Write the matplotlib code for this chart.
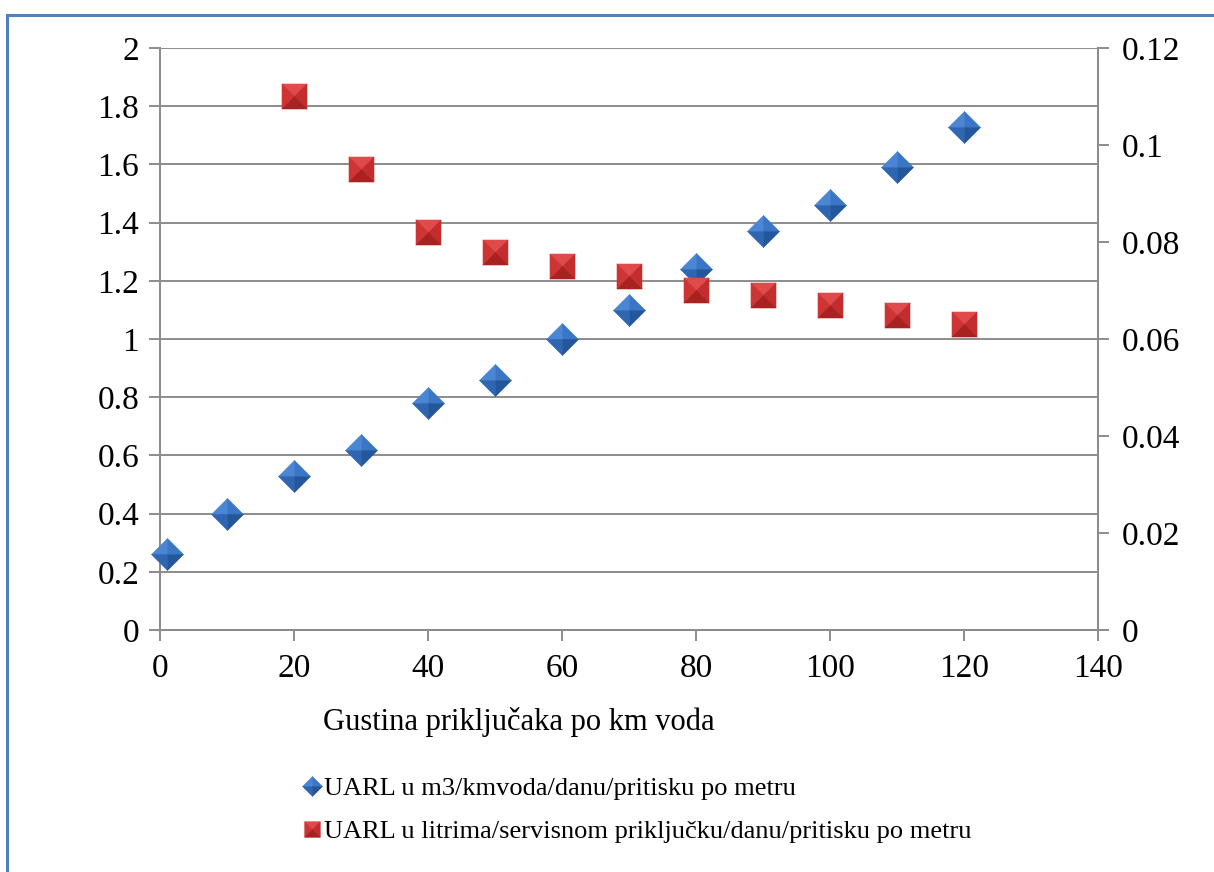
import matplotlib
matplotlib.use("Agg")
import matplotlib.pyplot as plt
from matplotlib.patches import Rectangle
from matplotlib.legend_handler import HandlerTuple

plt.rcParams['font.family'] = ['Liberation Serif', 'DejaVu Serif']

# Connection density (connections per km of main)
density_m3 = [1, 10, 20, 30, 40, 50, 60, 70, 80, 90, 100, 110, 120]
uarl_m3 = [0.26, 0.40, 0.53, 0.62, 0.78, 0.86, 1.00, 1.10, 1.24, 1.37, 1.46, 1.59, 1.73]

density_l = [20, 30, 40, 50, 60, 70, 80, 90, 100, 110, 120]
uarl_l = [0.110, 0.095, 0.082, 0.078, 0.075, 0.073, 0.070, 0.069, 0.067, 0.065, 0.063]

label_m3 = "UARL u m3/kmvoda/danu/pritisku po metru"
label_l = "UARL u litrima/servisnom priključku/danu/pritisku po metru"
xlabel = "Gustina priključaka po km voda"

left_ticks = [0, 0.2, 0.4, 0.6, 0.8, 1, 1.2, 1.4, 1.6, 1.8, 2]
left_ticklabels = ["0", "0.2", "0.4", "0.6", "0.8", "1", "1.2", "1.4", "1.6", "1.8", "2"]
right_ticks = [0, 0.02, 0.04, 0.06, 0.08, 0.1, 0.12]
right_ticklabels = ["0", "0.02", "0.04", "0.06", "0.08", "0.1", "0.12"]
x_ticks = [0, 20, 40, 60, 80, 100, 120, 140]

GRID = "#8c8c8c"
FS = 24

# Bevelled marker facets: (vertices, colour)
diamond_facets = [
    ([(0, 0), (-1, 0), (0, 1), (0, 0)], "#4a86d4"),
    ([(0, 0), (0, 1), (1, 0), (0, 0)], "#3a76c6"),
    ([(0, 0), (-1, 0), (0, -1), (0, 0)], "#2f66b2"),
    ([(0, 0), (1, 0), (0, -1), (0, 0)], "#24569c"),
]
square_facets = [
    ([(0, 0), (-1, 1), (1, 1), (0, 0)], "#e04a4a"),
    ([(0, 0), (-1, 1), (-1, -1), (0, 0)], "#cf3434"),
    ([(0, 0), (1, 1), (1, -1), (0, 0)], "#c42d2d"),
    ([(0, 0), (-1, -1), (1, -1), (0, 0)], "#a82222"),
]


def bevel_plot(ax, x, y, facets, ms, z):
    handles = []
    for verts, col in facets:
        h, = ax.plot(x, y, linestyle="none", marker=verts, markersize=ms,
                     markerfacecolor=col, markeredgecolor=col,
                     markeredgewidth=0.4, zorder=z, clip_on=False)
        handles.append(h)
    return handles


fig = plt.figure(figsize=(12.14, 8.72), dpi=100)
ax = fig.add_axes([0.1318, 0.2775, 0.7727, 0.6675])
ax2 = ax.twinx()

ax.set_xlim(0, 140)
ax.set_ylim(0, 2)
ax2.set_ylim(0, 0.12)

ax.set_yticks(left_ticks)
ax.set_yticklabels(left_ticklabels)
ax2.set_yticks(right_ticks)
ax2.set_yticklabels(right_ticklabels)
ax.set_xticks(x_ticks)
ax.set_xticklabels([str(t) for t in x_ticks])

ax.grid(axis="y", color=GRID, linewidth=1.4)
ax.set_axisbelow(True)

for a in (ax, ax2):
    a.spines["top"].set_visible(False)
    for s in ("left", "right", "bottom"):
        a.spines[s].set_color(GRID)
        a.spines[s].set_linewidth(1.4)
    a.tick_params(colors=GRID, width=1.4, length=8, labelsize=FS,
                  labelcolor="black")
ax.tick_params(axis="y", pad=7)
ax.tick_params(axis="x", pad=9)
ax2.tick_params(axis="y", pad=9)

# the first series is read against the left axis (2 on the left = 0.12 on the right)
h_m3 = bevel_plot(ax2, density_m3, [v * 0.06 for v in uarl_m3],
                  diamond_facets, 23, 5)
h_l = bevel_plot(ax2, density_l, uarl_l, square_facets, 18, 6)

fig.text(0.266, 0.172, xlabel, fontsize=22, ha="left", va="center")

fig.legend([tuple(h_m3), tuple(h_l)], [label_m3, label_l],
           handler_map={tuple: HandlerTuple(ndivide=1)},
           loc="upper left", bbox_to_anchor=(0.249, 0.109),
           bbox_transform=fig.transFigure,
           frameon=False, fontsize=19, markerscale=0.62,
           handlelength=0.7, handletextpad=0.12, labelspacing=0.72,
           borderaxespad=0, borderpad=0)

# Blue frame around the chart area
fig.add_artist(Rectangle((7 / 1214, -0.05), 1.2, 1 - 15 / 872 + 0.05,
                         transform=fig.transFigure, fill=False,
                         edgecolor="#4f81bd", linewidth=2.2))

fig.savefig("out.png", dpi=100)
